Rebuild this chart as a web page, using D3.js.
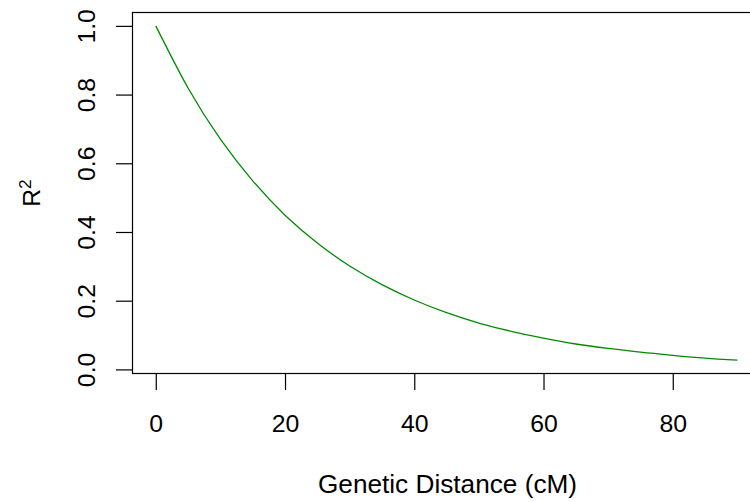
<!DOCTYPE html>
<html>
<head>
<meta charset="utf-8">
<script src="https://cdn.jsdelivr.net/npm/d3@7"></script>
<style>
  html, body { margin: 0; padding: 0; background: #fff; }
  svg { display: block; }
  text { font-family: "Liberation Sans", Arial, Helvetica, sans-serif; fill: #000; }
</style>
</head>
<body>
<svg id="chart" width="750" height="502"></svg>
<script>
// Data
const distance = [0, 5, 10, 15, 20, 25, 30, 35, 40, 45, 50, 55, 60, 65, 70, 75, 80, 85, 90];
const r2 = [1.000, 0.819, 0.670, 0.549, 0.449, 0.368, 0.301, 0.247, 0.202, 0.165, 0.135, 0.111, 0.091, 0.074, 0.061, 0.050, 0.041, 0.033, 0.027];
const xTicks = [0, 20, 40, 60, 80];
const yTicks = [0.0, 0.2, 0.4, 0.6, 0.8, 1.0];
const xLabel = "Genetic Distance (cM)";

(function () {
const svg = d3.select("#chart");
const fs = 24.8;
const fsTitle = 26.2;

const plotLeft = 132.5, plotTop = 12.5, plotBottom = 373.5;
// R-style 4% padding
const xr = d3.extent(distance), yr = d3.extent(r2);
const xpad = (xr[1] - xr[0]) * 0.04, ypad = (yr[1] - yr[0]) * 0.04;
const pxPerX = 6.4625;
const x = d3.scaleLinear()
  .domain([xr[0] - xpad, xr[1] + xpad])
  .range([plotLeft, plotLeft + (xr[1] - xr[0] + 2 * xpad) * pxPerX]);
const y = d3.scaleLinear()
  .domain([yr[0] - ypad, yr[1] + ypad])
  .range([plotBottom, plotTop]);

// curve
const line = d3.line()
  .x((d, i) => x(distance[i]))
  .y(d => y(d))
  .curve(d3.curveNatural);
svg.append("path")
  .datum(r2)
  .attr("d", line)
  .attr("fill", "none")
  .attr("stroke", "#008B00")
  .attr("stroke-width", 1.3);

// box
svg.append("rect")
  .attr("x", x.range()[0]).attr("y", plotTop)
  .attr("width", x.range()[1] - x.range()[0])
  .attr("height", plotBottom - plotTop)
  .attr("fill", "none").attr("stroke", "#000").attr("stroke-width", 1.2);

// x axis
const gx = svg.append("g")
  .attr("transform", `translate(0,${plotBottom})`)
  .call(d3.axisBottom(x).tickValues(xTicks).tickSizeInner(16.5).tickSizeOuter(0).tickFormat(d3.format("d")));
gx.select(".domain").remove();
gx.selectAll(".tick line").attr("stroke", "#000").attr("stroke-width", 1.2);
gx.selectAll(".tick text")
  .attr("y", 58).attr("dy", null)
  .style("font-size", fs + "px")
  .style("font-family", '"Liberation Sans", Arial, sans-serif')
  .attr("fill", "#000");

// y axis
const gy = svg.append("g")
  .attr("transform", `translate(${plotLeft},0)`)
  .call(d3.axisLeft(y).tickValues(yTicks).tickSizeInner(16.5).tickSizeOuter(0).tickFormat(d3.format(".1f")));
gy.select(".domain").remove();
gy.selectAll(".tick line").attr("stroke", "#000").attr("stroke-width", 1.2);
gy.selectAll(".tick text")
  .attr("x", null).attr("dy", null)
  .attr("text-anchor", "middle")
  .attr("transform", "translate(-37.5,0) rotate(-90)")
  .style("font-size", fs + "px")
  .style("font-family", '"Liberation Sans", Arial, sans-serif')
  .attr("fill", "#000");

// x label
svg.append("text")
  .attr("x", (318.3 + 576.7) / 2).attr("y", 493.3)
  .attr("text-anchor", "middle")
  .style("font-size", fsTitle + "px")
  .text(xLabel);

// y label R^2
const yl = svg.append("text")
  .attr("text-anchor", "middle")
  .attr("transform", `translate(40,${(plotTop + plotBottom) / 2}) rotate(-90)`)
  .style("font-size", fs + "px");
yl.append("tspan").text("R");
yl.append("tspan").attr("dy", -9).style("font-size", (fs * 0.7) + "px").text("2");
})();
</script>
</body>
</html>
